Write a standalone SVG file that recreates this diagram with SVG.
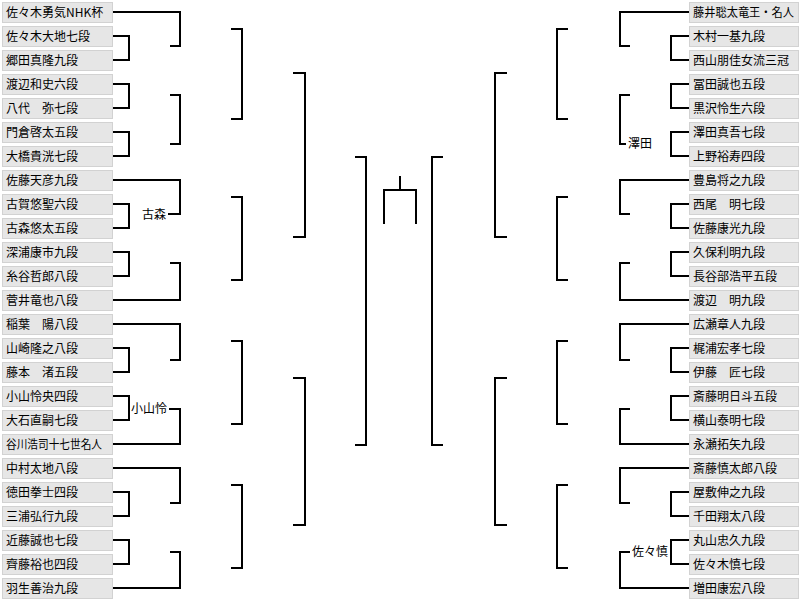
<svg xmlns="http://www.w3.org/2000/svg" width="800" height="600" viewBox="0 0 800 600">
<style>
.box{fill:#e6e6e6;stroke:#d2d2d2;stroke-width:1}
.t{font-family:"Noto Sans CJK JP","Noto Sans CJK SC",sans-serif;font-size:12px;fill:#000}
.c{fill:none;stroke:#000;stroke-width:2}
</style>
<rect width="800" height="600" fill="#fff"/>
<g id="left">
<g id="L0"><rect class="box" x="2.5" y="2.5" width="110" height="20"/><text class="t" x="6" y="17">佐々木勇気NHK杯</text></g>
<g id="L1"><rect class="box" x="2.5" y="26.5" width="110" height="20"/><text class="t" x="6" y="41">佐々木大地七段</text></g>
<g id="L2"><rect class="box" x="2.5" y="50.5" width="110" height="20"/><text class="t" x="6" y="65">郷田真隆九段</text></g>
<g id="L3"><rect class="box" x="2.5" y="74.5" width="110" height="20"/><text class="t" x="6" y="89">渡辺和史六段</text></g>
<g id="L4"><rect class="box" x="2.5" y="98.5" width="110" height="20"/><text class="t" x="6" y="113">八代　弥七段</text></g>
<g id="L5"><rect class="box" x="2.5" y="122.5" width="110" height="20"/><text class="t" x="6" y="137">門倉啓太五段</text></g>
<g id="L6"><rect class="box" x="2.5" y="146.5" width="110" height="20"/><text class="t" x="6" y="161">大橋貴洸七段</text></g>
<g id="L7"><rect class="box" x="2.5" y="170.5" width="110" height="20"/><text class="t" x="6" y="185">佐藤天彦九段</text></g>
<g id="L8"><rect class="box" x="2.5" y="194.5" width="110" height="20"/><text class="t" x="6" y="209">古賀悠聖六段</text></g>
<g id="L9"><rect class="box" x="2.5" y="218.5" width="110" height="20"/><text class="t" x="6" y="233">古森悠太五段</text></g>
<g id="L10"><rect class="box" x="2.5" y="242.5" width="110" height="20"/><text class="t" x="6" y="257">深浦康市九段</text></g>
<g id="L11"><rect class="box" x="2.5" y="266.5" width="110" height="20"/><text class="t" x="6" y="281">糸谷哲郎八段</text></g>
<g id="L12"><rect class="box" x="2.5" y="290.5" width="110" height="20"/><text class="t" x="6" y="305">菅井竜也八段</text></g>
<g id="L13"><rect class="box" x="2.5" y="314.5" width="110" height="20"/><text class="t" x="6" y="329">稲葉　陽八段</text></g>
<g id="L14"><rect class="box" x="2.5" y="338.5" width="110" height="20"/><text class="t" x="6" y="353">山崎隆之八段</text></g>
<g id="L15"><rect class="box" x="2.5" y="362.5" width="110" height="20"/><text class="t" x="6" y="377">藤本　渚五段</text></g>
<g id="L16"><rect class="box" x="2.5" y="386.5" width="110" height="20"/><text class="t" x="6" y="401">小山怜央四段</text></g>
<g id="L17"><rect class="box" x="2.5" y="410.5" width="110" height="20"/><text class="t" x="6" y="425">大石直嗣七段</text></g>
<g id="L18"><rect class="box" x="2.5" y="434.5" width="110" height="20"/><text class="t" x="6" y="449" textLength="96" lengthAdjust="spacingAndGlyphs">谷川浩司十七世名人</text></g>
<g id="L19"><rect class="box" x="2.5" y="458.5" width="110" height="20"/><text class="t" x="6" y="473">中村太地八段</text></g>
<g id="L20"><rect class="box" x="2.5" y="482.5" width="110" height="20"/><text class="t" x="6" y="497">徳田拳士四段</text></g>
<g id="L21"><rect class="box" x="2.5" y="506.5" width="110" height="20"/><text class="t" x="6" y="521">三浦弘行九段</text></g>
<g id="L22"><rect class="box" x="2.5" y="530.5" width="110" height="20"/><text class="t" x="6" y="545">近藤誠也七段</text></g>
<g id="L23"><rect class="box" x="2.5" y="554.5" width="110" height="20"/><text class="t" x="6" y="569">齊藤裕也四段</text></g>
<g id="L24"><rect class="box" x="2.5" y="578.5" width="110" height="20"/><text class="t" x="6" y="593">羽生善治九段</text></g>
</g>
<g id="right">
<g id="R0"><rect class="box" x="689.5" y="2.5" width="109" height="20"/><text class="t" x="693" y="17" textLength="101" lengthAdjust="spacingAndGlyphs">藤井聡太竜王・名人</text></g>
<g id="R1"><rect class="box" x="689.5" y="26.5" width="109" height="20"/><text class="t" x="693" y="41">木村一基九段</text></g>
<g id="R2"><rect class="box" x="689.5" y="50.5" width="109" height="20"/><text class="t" x="693" y="65">西山朋佳女流三冠</text></g>
<g id="R3"><rect class="box" x="689.5" y="74.5" width="109" height="20"/><text class="t" x="693" y="89">冨田誠也五段</text></g>
<g id="R4"><rect class="box" x="689.5" y="98.5" width="109" height="20"/><text class="t" x="693" y="113">黒沢怜生六段</text></g>
<g id="R5"><rect class="box" x="689.5" y="122.5" width="109" height="20"/><text class="t" x="693" y="137">澤田真吾七段</text></g>
<g id="R6"><rect class="box" x="689.5" y="146.5" width="109" height="20"/><text class="t" x="693" y="161">上野裕寿四段</text></g>
<g id="R7"><rect class="box" x="689.5" y="170.5" width="109" height="20"/><text class="t" x="693" y="185">豊島将之九段</text></g>
<g id="R8"><rect class="box" x="689.5" y="194.5" width="109" height="20"/><text class="t" x="693" y="209">西尾　明七段</text></g>
<g id="R9"><rect class="box" x="689.5" y="218.5" width="109" height="20"/><text class="t" x="693" y="233">佐藤康光九段</text></g>
<g id="R10"><rect class="box" x="689.5" y="242.5" width="109" height="20"/><text class="t" x="693" y="257">久保利明九段</text></g>
<g id="R11"><rect class="box" x="689.5" y="266.5" width="109" height="20"/><text class="t" x="693" y="281">長谷部浩平五段</text></g>
<g id="R12"><rect class="box" x="689.5" y="290.5" width="109" height="20"/><text class="t" x="693" y="305">渡辺　明九段</text></g>
<g id="R13"><rect class="box" x="689.5" y="314.5" width="109" height="20"/><text class="t" x="693" y="329">広瀬章人九段</text></g>
<g id="R14"><rect class="box" x="689.5" y="338.5" width="109" height="20"/><text class="t" x="693" y="353">梶浦宏孝七段</text></g>
<g id="R15"><rect class="box" x="689.5" y="362.5" width="109" height="20"/><text class="t" x="693" y="377">伊藤　匠七段</text></g>
<g id="R16"><rect class="box" x="689.5" y="386.5" width="109" height="20"/><text class="t" x="693" y="401">斎藤明日斗五段</text></g>
<g id="R17"><rect class="box" x="689.5" y="410.5" width="109" height="20"/><text class="t" x="693" y="425">横山泰明七段</text></g>
<g id="R18"><rect class="box" x="689.5" y="434.5" width="109" height="20"/><text class="t" x="693" y="449">永瀬拓矢九段</text></g>
<g id="R19"><rect class="box" x="689.5" y="458.5" width="109" height="20"/><text class="t" x="693" y="473">斎藤慎太郎八段</text></g>
<g id="R20"><rect class="box" x="689.5" y="482.5" width="109" height="20"/><text class="t" x="693" y="497">屋敷伸之九段</text></g>
<g id="R21"><rect class="box" x="689.5" y="506.5" width="109" height="20"/><text class="t" x="693" y="521">千田翔太八段</text></g>
<g id="R22"><rect class="box" x="689.5" y="530.5" width="109" height="20"/><text class="t" x="693" y="545">丸山忠久九段</text></g>
<g id="R23"><rect class="box" x="689.5" y="554.5" width="109" height="20"/><text class="t" x="693" y="569">佐々木慎七段</text></g>
<g id="R24"><rect class="box" x="689.5" y="578.5" width="109" height="20"/><text class="t" x="693" y="593">増田康宏八段</text></g>
</g>
<g id="labels">
<text class="t" x="166" y="219" text-anchor="end">古森</text>
<text class="t" x="167" y="413" text-anchor="end">小山怜</text>
<text class="t" x="628" y="148">澤田</text>
<text class="t" x="632" y="556">佐々慎</text>
</g>
<g id="connectors" class="c">
<path class="c" d="M113 36H129V60H113M113 84H129V108H113M113 132H129V156H113M113 204H129V228H113M113 252H129V276H113M113 348H129V372H113M113 396H129V420H113M113 492H129V516H113M113 540H129V564H113"/>
<path class="c" d="M113 12H180V46H170M170 95H180V144H170M113 180H180V214H168M170 263H180V300H113M113 324H180V360H170M169 409H180V444H113M113 468H180V503H170M170 552H180V588H113"/>
<path class="c" d="M231 29H242V119H231M231 197H242V280H231M231 341H242V424H231M231 485H242V568H231"/>
<path class="c" d="M293 73H305V237H293M293 378H305V525H293"/>
<path class="c" d="M355 157H366V445H355M443 157H432V445H443"/>
<path class="c" d="M384 224V190H416V224M400 190V176"/>
<path class="c" d="M689 36H671V60H689M689 84H671V108H689M689 132H671V156H689M689 204H671V228H689M689 252H671V276H689M689 348H671V372H689M689 396H671V420H689M689 492H671V516H689M689 540H671V564H689"/>
<path class="c" d="M689 12H620V46H630M630 95H620V144H626M689 180H620V214H630M630 263H620V300H689M689 324H620V360H630M630 409H620V444H689M689 468H620V503H630M630 552H620V588H689"/>
<path class="c" d="M568 29H557V119H568M568 197H557V280H568M568 341H557V424H568M568 485H557V568H568"/>
<path class="c" d="M507 73H495V237H507M507 378H495V525H507"/>
</g>
</svg>
